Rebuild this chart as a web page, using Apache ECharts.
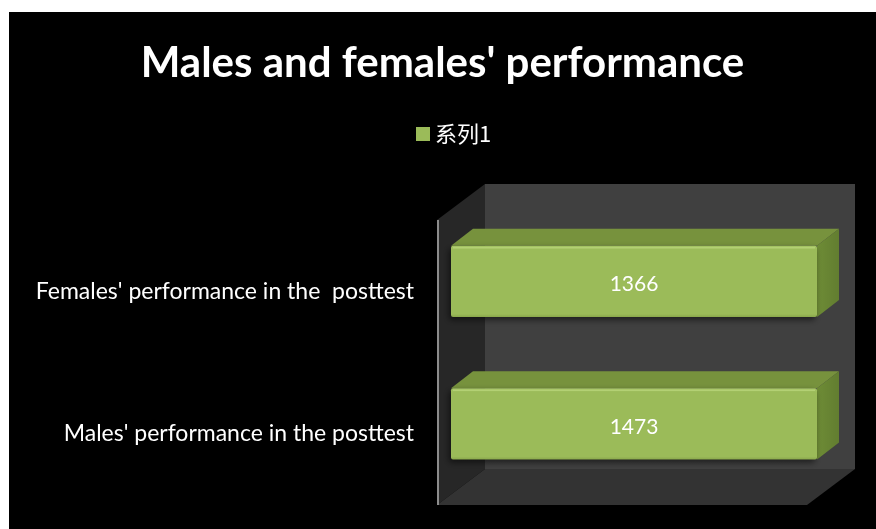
<!DOCTYPE html>
<html><head><meta charset="utf-8">
<script src="https://cdn.jsdelivr.net/npm/echarts@6/dist/echarts.min.js"></script>
<style>html,body{margin:0;background:#fff;width:876px;height:529px;overflow:hidden}#c{position:absolute;left:9px;top:12px;width:867px;height:517px;background:#000}</style>
</head><body><div id="c"></div>
<script>
const categories = ["Males' performance in the posttest", "Females' performance in the  posttest"];
const values = [1473, 1366];
const seriesName = '系列1';
const titleText = "Males and females' performance";
const axisMax = 1300;

const DX = 48, DY = -36;          // depth of the 3D box
const FX = 14, FY = -10;          // bar front offset inside depth
const BDX = 22, BDY = -17;        // bar depth

function renderWalls(params, api) {
  const cs = params.coordSys;
  const l = cs.x, t = cs.y, r = cs.x + cs.width, b = cs.y + cs.height;
  return {
    type: 'group',
    children: [
      { type: 'polygon', shape: { points: [[l + DX, t + DY], [r + DX, t + DY], [r + DX, b + DY], [l + DX, b + DY]] }, style: { fill: '#404040' } },
      { type: 'polygon', shape: { points: [[l, t], [l + DX, t + DY], [l + DX, b + DY], [l, b]] }, style: { fill: '#272727' } },
      { type: 'polygon', shape: { points: [[l, b], [r, b], [r + DX, b + DY], [l + DX, b + DY]] }, style: { fill: '#333333' } },
      { type: 'line', shape: { x1: l + 1, y1: t, x2: l + 1, y2: b }, style: { stroke: '#8c8c8c', lineWidth: 2 } }
    ]
  };
}

function renderBar(params, api) {
  const cat = api.value(0), v = api.value(1);
  const start = api.coord([0, cat]);
  const end = api.coord([Math.min(v, axisMax), cat]);
  const band = api.size([0, 1])[1];
  const h = band * 0.5;
  const x0 = start[0] + FX, x1 = end[0] + FX - 4;
  const yT = start[1] - h / 2 + FY, yB = start[1] + h / 2 + FY;
  return {
    type: 'group',
    children: [
      { type: 'polygon', shape: { points: [[x0, yT], [x0 + BDX, yT + BDY], [x1 + BDX, yT + BDY], [x1, yT]] },
        style: { fill: '#77923d' } },
      { type: 'polygon', shape: { points: [[x1, yT], [x1 + BDX, yT + BDY], [x1 + BDX, yB + BDY], [x1, yB]] },
        style: { fill: new echarts.graphic.LinearGradient(0, 0, 1, 0, [{ offset: 0, color: '#6e8c36' }, { offset: 1, color: '#627d30' }]) } },
      { type: 'rect', shape: { x: x0, y: yT, width: x1 - x0, height: yB - yT, r: 2 },
        style: { fill: new echarts.graphic.LinearGradient(0, 0, 0, 1, [{ offset: 0, color: '#a6c565' }, { offset: 0.06, color: '#9bbb59' }, { offset: 0.96, color: '#9bbb59' }, { offset: 1, color: '#8aa84c' }]),
          shadowColor: 'rgba(0,0,0,0.55)', shadowBlur: 6, shadowOffsetX: -2, shadowOffsetY: 3 } },
      { type: 'line', shape: { x1: x0 + 2, y1: yT + 2, x2: x1 - 2, y2: yT + 2 }, style: { stroke: '#b3d074', lineWidth: 1.5 } },
      { type: 'text', x: (x0 + x1) / 2, y: (yT + yB) / 2 + 3,
        style: { text: String(v), fill: '#ffffff', fontSize: 21, fontFamily: 'Lato, "Open Sans", sans-serif', align: 'center', verticalAlign: 'middle' } }
    ]
  };
}

const chart = echarts.init(document.getElementById('c'), null, { renderer: 'canvas' });
chart.setOption({
  animation: false,
  backgroundColor: '#000000',
  title: {
    text: titleText, left: 'center', top: 25,
    textStyle: { color: '#ffffff', fontSize: 42, fontWeight: 'bold', fontFamily: 'Lato, "Open Sans", sans-serif' }
  },
  legend: {
    data: [seriesName], left: 402, top: 106, icon: 'rect', itemWidth: 14, itemHeight: 14, itemGap: 6,
    textStyle: { color: '#ffffff', fontSize: 22, fontFamily: '"Noto Sans CJK SC", sans-serif' }
  },
  grid: { left: 428, top: 208, width: 370, height: 285 },
  xAxis: { type: 'value', min: 0, max: axisMax, show: false },
  yAxis: {
    type: 'category', data: categories,
    axisLine: { show: false }, axisTick: { show: false }, splitLine: { show: false },
    axisLabel: { color: '#ffffff', fontSize: 23, margin: 23, padding: [5, 0, 0, 0], fontFamily: 'Lato, "Open Sans", sans-serif' }
  },
  series: [
    { type: 'custom', name: 'walls', data: [[0, 0]], renderItem: renderWalls, silent: true, z: 1 },
    { type: 'custom', name: seriesName, data: values.map((v, i) => [i, v]), encode: { x: 1, y: 0 },
      itemStyle: { color: '#9bbb59' }, renderItem: renderBar, z: 3 }
  ]
});
</script>
</body></html>
